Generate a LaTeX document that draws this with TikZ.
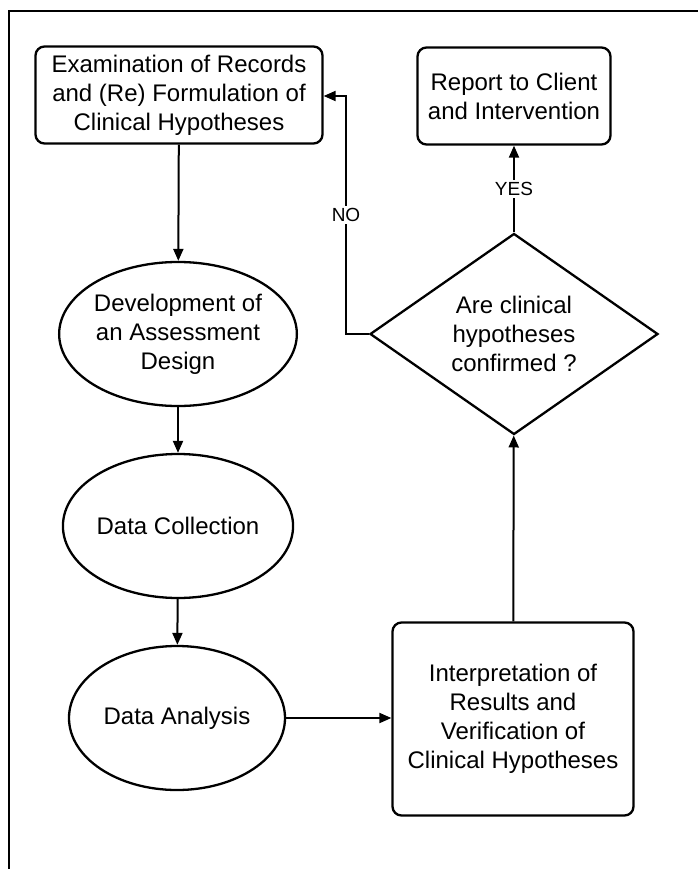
\documentclass[tikz,border=0pt]{standalone}
\usepackage{fontspec}
\setmainfont{Liberation Sans}
\usetikzlibrary{shapes.geometric,arrows.meta}
\begin{document}
\begin{tikzpicture}[x=1pt,y=-1pt,
  font=\fontsize{24}{29}\selectfont,
  box/.style={draw,line width=2.3pt,rounded corners=9pt,align=center,inner sep=0pt},
  oval/.style={draw,ellipse,line width=2.3pt,align=center,minimum width=216pt,minimum height=144pt,inner sep=0pt},
  conn/.style={line width=2pt,-{Triangle[length=12pt,width=10pt]}},
  lbl/.style={fill=white,font=\fontsize{19}{21}\selectfont,inner sep=2pt}]
\useasboundingbox (0,0) rectangle (698,869);
% frame
\coordinate (fa) at (9,869);
\coordinate (fb) at (9,11);
\coordinate (fc) at (698,11);
\draw[line width=2.2pt] (fa) -- (fb) -- (fc);
% nodes
\node[box,minimum width=287pt,minimum height=97pt] (exam) at (179,95)
  {Examination of Records\\and (Re) Formulation of\\Clinical Hypotheses};
\node[box,minimum width=193pt,minimum height=97pt] (report) at (514,96)
  {Report to Client\\and Intervention};
\node[oval] (dev) at (178,334) {Development of\\an Assessment\\Design};
\node[oval] (coll) at (178,526) {Data Collection};
\node[oval] (anal) at (177,718) {Data Analysis};
\node[draw,diamond,line width=2.3pt,minimum width=288pt,minimum height=190pt,inner sep=0pt,align=center] (q) at (514,334)
  {Are clinical\\hypotheses\\confirmed ?};
\node[box,minimum width=241pt,minimum height=193pt] (interp) at (513,719)
  {Interpretation of\\Results and\\Verification of\\Clinical Hypotheses};
\coordinate (turn) at (346,96);
% connectors
\draw[conn] (exam) -- (dev);
\draw[conn] (dev) -- (coll);
\draw[conn] (coll) -- (anal);
\draw[conn] (anal.east) -- (anal.east -| interp.west);
\draw[conn] (interp) -- (q);
\draw[conn] (q.north) -- node[lbl] {YES} (report.south);
\draw[conn] (q.west) -- (q.west -| turn) -- node[lbl] {NO} (turn) -- (turn -| exam.east);
\end{tikzpicture}
\end{document}
